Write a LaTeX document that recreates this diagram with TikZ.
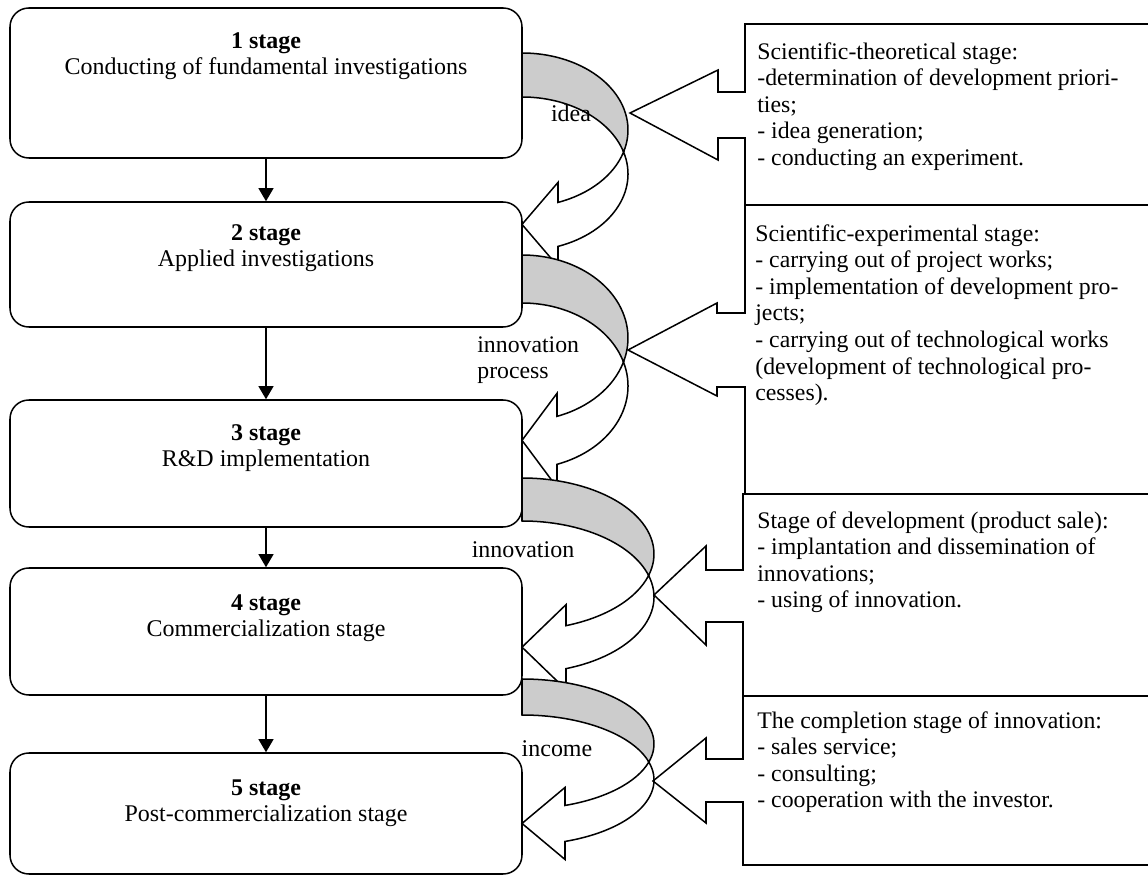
\documentclass[tikz,border=0pt]{standalone}
\usepackage{fontspec}
\setmainfont{Liberation Serif}
\usetikzlibrary{positioning,arrows.meta}

\newlength{\px}
\setlength{\px}{0.53pt}

% curved band from the right side of one stage to the next one
% #1 top, #2 thickness, #3 y radius, #4 x radius, #5 head x, #6 barb
\newcommand{\bentarrow}[6]{%
	\pgfmathsetmacro{\arcA}{#1+#3}
	\pgfmathsetmacro{\arcB}{#1+#3+#2}
	\pgfmathsetmacro{\angC}{asin(#2/(2*#3))}
	\pgfmathsetmacro{\angH}{acos((#5-522)/#4)}
	\pgfmathsetmacro{\crossX}{522+#4*cos(\angC)}
	\pgfmathsetmacro{\crossY}{\arcA+#3*sin(\angC)}
	\pgfmathsetmacro{\notchA}{\arcA+#3*sin(\angH)}
	\pgfmathsetmacro{\notchB}{\arcB+#3*sin(\angH)}
	\pgfmathsetmacro{\tipY}{(\notchA+\notchB)/2}
	\path[backband] (522,#1) arc[start angle=-90, end angle=\angC, x radius=#4, y radius=#3]
		arc[start angle=-\angC, end angle=-90, x radius=#4, y radius=#3] -- cycle;
	\path[frontband] (\crossX,\crossY) arc[start angle=-\angC, end angle=\angH, x radius=#4, y radius=#3]
		-- (#5,\notchB+#6) -- (522,\tipY) -- (#5,\notchA-#6) -- (#5,\notchA)
		arc[start angle=\angH, end angle=\angC, x radius=#4, y radius=#3] -- cycle;
}

% box with a wedge pointing left
% #1 left, #2 top, #3 bottom, #4 stem top, #5 stem bottom, #6 stem x, #7 head top, #8 head bottom, #9 tip
\newcommand{\calloutshape}[9]{%
	\draw[callout] (1160,#2) -- (#1,#2) -- (#1,#4) -- (#6,#4) -- (#6,#7) -- (#9)
		-- (#6,#8) -- (#6,#5) -- (#1,#5) -- (#1,#3) -- (1160,#3);
}

\begin{document}
\begin{tikzpicture}[x=0.53pt, y=-0.53pt,
	every node/.style={font=\fontsize{12.7pt}{14pt}\selectfont},
	stagebox/.style={draw, line width=0.8pt, rounded corners=10pt, minimum width=512\px, inner sep=0pt},
	stagetext/.style={align=center, inner sep=0pt},
	notetext/.style={align=left, inner sep=0pt, anchor=north west, font=\fontsize{12.6pt}{14.1pt}\selectfont},
	flowlabel/.style={inner sep=0pt, anchor=base},
	stagearrow/.style={-{Triangle[length=7pt,width=8pt]}, line width=0.8pt},
	backband/.style={draw, fill=gray!40, line width=0.8pt},
	frontband/.style={draw, fill=white, line width=0.8pt},
	callout/.style={draw, line width=0.8pt}]
	\useasboundingbox (0,0) rectangle (1148,877);

	% stages
	\node[stagebox, minimum height=150\px] (s1) at (266,83) {};
	\node[stagebox, minimum height=125\px] (s2) at (266,264.5) {};
	\node[stagebox, minimum height=127\px] (s3) at (266,463.5) {};
	\node[stagebox, minimum height=127\px] (s4) at (266,631.5) {};
	\node[stagebox, minimum height=121\px] (s5) at (266,813.5) {};

	\node[stagetext, below=25\px of s1.north] (t1) {\textbf{1 stage}\\Conducting of fundamental investigations};
	\node[stagetext, below=23\px of s2.north] (t2) {\textbf{2 stage}\\Applied investigations};
	\node[stagetext, below=25\px of s3.north] (t3) {\textbf{3 stage}\\R\&D implementation};
	\node[stagetext, below=27\px of s4.north] (t4) {\textbf{4 stage}\\Commercialization stage};
	\node[stagetext, below=27\px of s5.north] (t5) {\textbf{5 stage}\\Post-commercialization stage};

	\draw[stagearrow] (s1) -- (s2);
	\draw[stagearrow] (s2) -- (s3);
	\draw[stagearrow] (s3) -- (s4);
	\draw[stagearrow] (s4) -- (s5);

	% curved arrows
	\bentarrow{53}{44}{77}{106}{558}{20}
	\bentarrow{255}{48}{83}{106}{557}{23}
	\bentarrow{478}{43}{76}{132}{566}{21}
	\bentarrow{679}{36}{65}{132}{565}{18}

	\node[flowlabel] (l1) at (571,122) {idea};
	\node[notetext] (l2) at (477,336) {innovation\\process};
	\node[flowlabel] (l3) at (523,558) {innovation};
	\node[flowlabel] (l4) at (557,757) {income};

	% callouts
	\calloutshape{745}{24}{205}{92}{138}{718}{70}{160}{630,113}
	\calloutshape{745}{205}{494}{313}{387}{717}{303}{396}{628,350}
	\calloutshape{743}{494}{696}{570}{622}{706}{546}{645}{654,595}
	\calloutshape{743}{696}{865}{759}{802}{706}{738}{823}{653,781}

	\node[notetext] (c1) at (757,42) {Scientific-theoretical stage:\\-determination of development priori-\\ties;\\- idea generation;\\- conducting an experiment.};
	\node[notetext] (c2) at (755,224) {Scientific-experimental stage:\\- carrying out of project works;\\- implementation of development pro-\\jects;\\- carrying out of technological works\\(development of technological pro-\\cesses).};
	\node[notetext] (c3) at (757,511) {Stage of development (product sale):\\- implantation and dissemination of\\innovations;\\- using of innovation.};
	\node[notetext] (c4) at (757,711) {The completion stage of innovation:\\- sales service;\\- consulting;\\- cooperation with the investor.};
\end{tikzpicture}
\end{document}
